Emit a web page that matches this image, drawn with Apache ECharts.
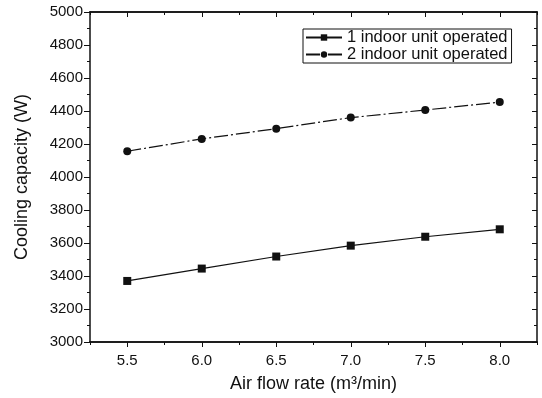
<!DOCTYPE html>
<html>
<head>
<meta charset="utf-8">
<script src="https://cdn.jsdelivr.net/npm/echarts@6/dist/echarts.min.js"></script>
<style>
  html, body { margin: 0; padding: 0; background: #fff; }
  #chart { width: 542px; height: 398px; }
</style>
</head>
<body>
<div id="chart"></div>
<script>
// data
const airFlow = [5.5, 6.0, 6.5, 7.0, 7.5, 8.0]
const oneUnit = [3370, 3445, 3518, 3584, 3638, 3683]
const twoUnits = [4156, 4231, 4293, 4360, 4406, 4454]
const xTicks = [5.5, 6.0, 6.5, 7.0, 7.5, 8.0]
const xMinorTicks = [5.25, 5.75, 6.25, 6.75, 7.25, 7.75, 8.25]
const seriesNames = ['1 indoor unit operated', '2 indoor unit operated']

const font = 'Liberation Sans, Arial, sans-serif'
const black = '#111'

const chart = echarts.init(document.getElementById('chart'))

const pairs = (xs, ys) => xs.map((x, i) => [x, ys[i]])

const xBase = {
  type: 'value',
  min: 5.25,
  max: 8.25,
  splitLine: { show: false },
  axisLine: { show: true, onZero: false, lineStyle: { color: black, width: 1.5 } }
}

const option = {
  animation: false,
  grid: { left: 90, right: 5, top: 12, bottom: 55 },
  legend: {
    left: 303,
    top: 29,
    orient: 'vertical',
    data: seriesNames,
    itemWidth: 36,
    itemHeight: 8,
    itemGap: 0,
    padding: [0, 4, 0, 2],
    borderColor: black,
    borderWidth: 1,
    backgroundColor: '#fff',
    textStyle: { fontFamily: font, fontSize: 16.5, color: black, padding: [0, 0, 0, 0], lineHeight: 17 }
  },
  xAxis: [
    Object.assign({}, xBase, {
      position: 'bottom',
      name: 'Air flow rate (m³/min)',
      nameLocation: 'middle',
      nameGap: 33,
      nameTextStyle: { fontFamily: font, fontSize: 18, color: black },
      axisTick: { show: true, inside: false, length: 5, customValues: xTicks, lineStyle: { color: black } },
      axisLabel: {
        show: true, customValues: xTicks, margin: 11,
        fontFamily: font, fontSize: 15, color: black,
        formatter: v => v.toFixed(1)
      }
    }),
    Object.assign({}, xBase, {
      position: 'bottom',
      axisTick: { show: true, inside: false, length: 3, customValues: xMinorTicks, lineStyle: { color: black } },
      axisLabel: { show: false }
    }),
    Object.assign({}, xBase, {
      position: 'top',
      axisTick: { show: true, inside: true, length: 5, customValues: xTicks, lineStyle: { color: black } },
      axisLabel: { show: false }
    }),
    Object.assign({}, xBase, {
      position: 'top',
      axisTick: { show: true, inside: true, length: 3, customValues: xMinorTicks, lineStyle: { color: black } },
      axisLabel: { show: false }
    })
  ],
  yAxis: [
    {
      type: 'value',
      position: 'left',
      min: 3000,
      max: 5000,
      interval: 200,
      name: 'Cooling capacity (W)',
      nameLocation: 'middle',
      nameGap: 59,
      nameTextStyle: { fontFamily: font, fontSize: 18, color: black },
      splitLine: { show: false },
      axisLine: { show: true, lineStyle: { color: black, width: 1.5 } },
      axisTick: { show: true, inside: false, length: 6, lineStyle: { color: black } },
      minorTick: { show: true, splitNumber: 2, length: 3, lineStyle: { color: black } },
      axisLabel: { fontFamily: font, fontSize: 15, color: black, margin: 7, formatter: v => String(v) }
    },
    {
      type: 'value',
      position: 'right',
      min: 3000,
      max: 5000,
      interval: 200,
      splitLine: { show: false },
      axisLine: { show: true, lineStyle: { color: black, width: 1.5 } },
      axisTick: { show: true, inside: true, length: 5, lineStyle: { color: black } },
      minorTick: { show: true, splitNumber: 2, length: 3, lineStyle: { color: black } },
      axisLabel: { show: false }
    }
  ],
  series: [
    {
      name: seriesNames[0],
      type: 'line',
      data: pairs(airFlow, oneUnit),
      symbol: 'rect',
      symbolSize: 8,
      itemStyle: { color: black },
      lineStyle: { color: black, width: 1.2 }
    },
    {
      name: seriesNames[1],
      type: 'line',
      data: pairs(airFlow, twoUnits),
      symbol: 'circle',
      symbolSize: 8,
      itemStyle: { color: black },
      lineStyle: { color: black, width: 1.2, type: [14, 3, 2, 3] }
    }
  ]
}

chart.setOption(option)
</script>
</body>
</html>
